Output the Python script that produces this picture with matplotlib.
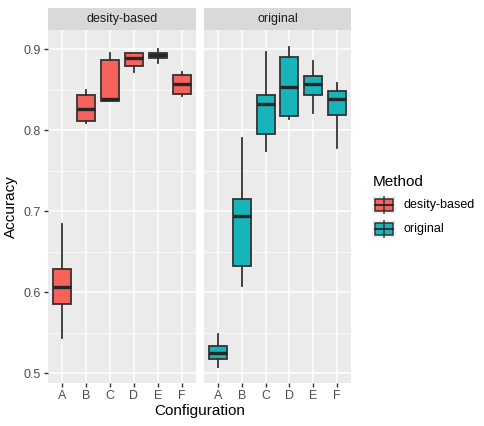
import matplotlib
matplotlib.use('Agg')
import matplotlib.pyplot as plt
from matplotlib.patches import Rectangle

plt.rcParams['font.family'] = ['Liberation Sans', 'DejaVu Sans']

# Box statistics: (whisker low, Q1, median, Q3, whisker high)
configs = ['A', 'B', 'C', 'D', 'E', 'F']
methods = ['desity-based', 'original']
colors_fill = ['#F7625C', '#17B5B9']

density_low = [0.544, 0.809, 0.836, 0.872, 0.883, 0.843]
density_q1 = [0.586, 0.811, 0.836, 0.879, 0.890, 0.845]
density_med = [0.606, 0.827, 0.839, 0.889, 0.893, 0.857]
density_q3 = [0.629, 0.844, 0.887, 0.896, 0.896, 0.869]
density_high = [0.684, 0.850, 0.895, 0.896, 0.900, 0.872]

original_low = [0.508, 0.608, 0.774, 0.814, 0.822, 0.778]
original_q1 = [0.518, 0.632, 0.795, 0.818, 0.844, 0.819]
original_med = [0.525, 0.694, 0.832, 0.854, 0.857, 0.839]
original_q3 = [0.534, 0.715, 0.844, 0.891, 0.867, 0.849]
original_high = [0.549, 0.790, 0.897, 0.903, 0.886, 0.858]

series = {
    'desity-based': (density_low, density_q1, density_med, density_q3, density_high),
    'original': (original_low, original_q1, original_med, original_q3, original_high),
}

W, H = 485, 426
fig = plt.figure(figsize=(W / 100, H / 100), dpi=100)

def fx(px):
    return px / W

def fy(py):
    return 1 - py / H

panels = [(48, 196), (204, 351)]
top, bottom = 30, 383
line_col = '#333333'

for k, method in enumerate(methods):
    x0, x1 = panels[k]
    ax = fig.add_axes([fx(x0), fy(bottom), fx(x1 - x0), fy(top) - fy(bottom)])
    ax.set_facecolor('#EBEBEB')
    for s in ax.spines.values():
        s.set_visible(False)
    lo, q1, med, q3, hi = series[method]
    stats = []
    for i in range(len(configs)):
        stats.append(dict(whislo=lo[i], q1=q1[i], med=med[i], q3=q3[i], whishi=hi[i], fliers=[]))
    ax.bxp(stats, positions=range(1, len(configs) + 1), widths=0.75, patch_artist=True,
           showcaps=False,
           boxprops=dict(facecolor=colors_fill[k], edgecolor=line_col, linewidth=1.3),
           medianprops=dict(color='#262626', linewidth=2.4, solid_capstyle='butt'),
           whiskerprops=dict(color=line_col, linewidth=1.3))
    ax.set_xlim(0.4, 6.6)
    ax.set_ylim(0.488, 0.924)
    ax.set_xticks(range(1, len(configs) + 1))
    ax.set_xticklabels(configs)
    ax.set_yticks([0.5, 0.6, 0.7, 0.8, 0.9])
    ax.set_yticks([0.55, 0.65, 0.75, 0.85], minor=True)
    ax.grid(True, which='major', color='white', linewidth=1.1)
    ax.grid(True, which='minor', axis='y', color='white', linewidth=0.5)
    ax.set_axisbelow(True)
    ax.tick_params(axis='both', which='major', length=3, width=1, color='#333333',
                   labelsize=9, labelcolor='#4D4D4D', pad=2)
    ax.tick_params(axis='both', which='minor', length=0)
    if k == 0:
        ax.set_ylabel('Accuracy', fontsize=11, labelpad=4)
    else:
        ax.tick_params(axis='y', which='major', length=0, labelleft=False)
    # facet strip
    sax = fig.add_axes([fx(x0), fy(top), fx(x1 - x0), fy(8) - fy(top)])
    sax.set_facecolor('#D9D9D9')
    sax.set_xticks([])
    sax.set_yticks([])
    for s in sax.spines.values():
        s.set_visible(False)
    sax.text(0.5, 0.5, method, ha='center', va='center', fontsize=9, color='#1A1A1A',
             transform=sax.transAxes)

fig.text(fx((48 + 351) / 2), fy(411), 'Configuration', ha='center', va='center', fontsize=11)

# legend
fig.text(fx(373), fy(182), 'Method', ha='left', va='center', fontsize=11)
for k, method in enumerate(methods):
    ky = 196 + k * 24
    kax = fig.add_axes([fx(372), fy(ky + 18), fx(24), fy(ky) - fy(ky + 18)])
    kax.set_facecolor('#F2F2F2')
    kax.set_xlim(0, 1)
    kax.set_ylim(0, 1)
    kax.set_xticks([])
    kax.set_yticks([])
    for s in kax.spines.values():
        s.set_visible(False)
    kax.plot([0.5, 0.5], [0.05, 0.95], color=line_col, linewidth=1.1)
    kax.add_patch(Rectangle((0.12, 0.18), 0.76, 0.64, facecolor=colors_fill[k],
                            edgecolor=line_col, linewidth=1.1))
    kax.plot([0.12, 0.88], [0.5, 0.5], color='#262626', linewidth=1.3)
    fig.text(fx(404), fy(ky + 9), method, ha='left', va='center', fontsize=9)

fig.savefig('out.png', dpi=100)
